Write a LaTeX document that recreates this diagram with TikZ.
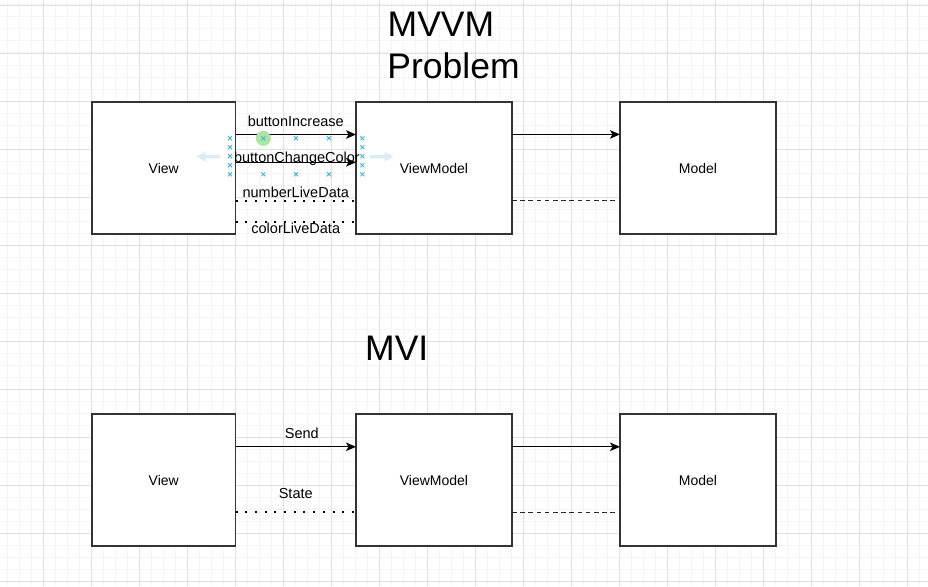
\documentclass[tikz,border=0pt]{standalone}
\usepackage{fontspec}
\setmainfont{Liberation Sans}
\usetikzlibrary{arrows.meta}
\definecolor{minorgrid}{RGB}{245,245,245}
\definecolor{majorgrid}{RGB}{224,224,224}
\definecolor{handle}{RGB}{41,182,242}
\definecolor{hint}{RGB}{214,236,250}
\definecolor{hover}{RGB}{170,230,160}
\definecolor{boxline}{RGB}{51,51,51}
\begin{document}
\begin{tikzpicture}[x=1pt,y=-1pt,
  box/.style={draw=boxline, line width=1.2pt, fill=white, minimum width=156pt,
    minimum height=132pt, inner sep=0pt, outer sep=0pt, font=\fontsize{14}{16}\selectfont},
  vbox/.style={box, minimum width=143.5pt},
  conn/.style={draw=black, line width=1.2pt, -{Stealth[length=10pt,width=8.5pt,inset=2.5pt]}},
  dotline/.style={draw=black, line width=2pt, dash pattern=on 2pt off 7.7pt},
  dashline/.style={draw=black!85, line width=1.2pt, dash pattern=on 4.5pt off 3.7pt},
  lbl/.style={font=\fontsize{14.5}{17}\selectfont, inner sep=0pt, anchor=base},
  title/.style={font=\fontsize{35.5}{41}\selectfont, inner sep=0pt, anchor=base west},
  xmark/.style={draw=handle, line width=0.8pt}
]
\useasboundingbox (0,0) rectangle (928,586);
\fill[white] (0,0) rectangle (928,586);
% grid
\foreach \k in {0,...,76}{\draw[minorgrid, line width=1pt] ({7.5+12*\k},0) -- ({7.5+12*\k},586);}
\foreach \k in {0,...,48}{\draw[minorgrid, line width=1pt] (0,{5+12*\k}) -- (928,{5+12*\k});}
\foreach \k in {0,...,18}{\draw[majorgrid, line width=0.9pt] ({43.5+48*\k},0) -- ({43.5+48*\k},586);}
\foreach \k in {0,...,12}{\draw[majorgrid, line width=0.9pt] (0,{5+48*\k}) -- (928,{5+48*\k});}

% titles
\node[title] (t1) at (387.5,37) {MVVM};
\node[title] (t2) at (387.2,78) {Problem};
\node[title] (t3) at (365,360) {MVI};

% boxes top
\node[vbox] (v1) at (163.75,168) {View};
\node[box] (vm1) at (434,168) {ViewModel};
\node[box] (m1) at (698,168) {Model};
% boxes bottom
\node[vbox] (v2) at (163.75,480) {View};
\node[box] (vm2) at (434,480) {ViewModel};
\node[box] (m2) at (698,480) {Model};

% top connectors
\draw[conn] ([yshift=33.5pt]v1.east) -- ([yshift=33.5pt]vm1.west)
  node[lbl, midway, yshift=8.5pt] {buttonIncrease};
\draw[conn] ([yshift=5.7pt]v1.east) -- ([yshift=5.7pt]vm1.west)
  node[lbl, pos=0.51, yshift=0pt] {buttonChangeColor};
\draw[dotline] ([yshift=-32.7pt]v1.east) -- ([yshift=-32.7pt]vm1.west)
  node[lbl, midway, yshift=3pt] {numberLiveData};
\draw[dotline] ([yshift=-53.7pt]v1.east) -- ([yshift=-53.7pt]vm1.west)
  node[lbl, midway, yshift=-11.6pt] {colorLiveData};
\draw[conn] ([yshift=33.6pt]vm1.east) -- ([yshift=33.6pt]m1.west);
\draw[dashline] ([yshift=-32.5pt]vm1.east) -- ([yshift=-32.5pt]m1.west);

% bottom connectors
\draw[conn] ([yshift=33.2pt]v2.east) -- ([yshift=33.2pt]vm2.west)
  node[lbl, pos=0.55, yshift=8.7pt] {Send};
\draw[dotline] ([yshift=-32.3pt]v2.east) -- ([yshift=-32.3pt]vm2.west)
  node[lbl, midway, yshift=14.3pt] {State};
\draw[conn] ([yshift=33.2pt]vm2.east) -- ([yshift=33.2pt]m2.west);
\draw[dashline] ([yshift=-32.3pt]vm2.east) -- ([yshift=-32.3pt]m2.west);

% editor selection handles
\fill[hover] (263.3,138.3) circle (7.5);
\foreach \x/\y in {230/138.3,230/147.3,230/156.3,230/165.3,230/174.3,
                   362.3/138.3,362.3/147.3,362.3/156.3,362.3/165.3,362.3/174.3,
                   263.3/138.3,296/138.3,329/138.3,263.3/174.3,296/174.3,329/174.3}
  {\draw[xmark] (\x-2,\y-2) -- (\x+2,\y+2) (\x-2,\y+2) -- (\x+2,\y-2);}
\fill[hint] (196.7,156.5) -- (205.5,152) -- (205.5,155) -- (220,155) -- (220,158.3)
  -- (205.5,158.3) -- (205.5,161.5) -- cycle;
\fill[hint] (393.3,156.5) -- (384.5,152) -- (384.5,155) -- (370,155) -- (370,158.3)
  -- (384.5,158.3) -- (384.5,161.5) -- cycle;
\end{tikzpicture}
\end{document}
